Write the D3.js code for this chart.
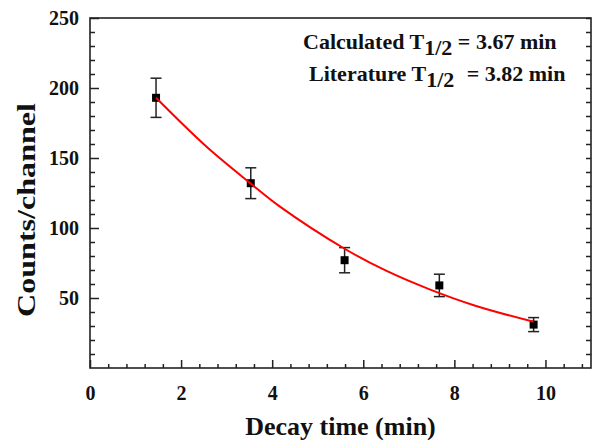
<!DOCTYPE html>
<html>
<head>
<meta charset="utf-8">
<script src="https://cdn.jsdelivr.net/npm/d3@7"></script>
<style>
  body { margin: 0; background: #fff; }
</style>
</head>
<body>
<div class="chartD3"></div>
<script>
// measured points
let decayTimes = [1.45, 3.53, 5.59, 7.67, 9.74]
let counts = [193, 132, 77, 59, 31]
let errors = [14, 11, 9, 8, 5]

// red fit line
let fitTimes = [1.45, 2.56, 3.52, 4.14, 5.6, 6.5, 7.47, 8.46, 9.74]
let fitCounts = [193, 158, 132, 116, 85, 69.5, 56, 44.5, 33]

let xMajor = [0, 2, 4, 6, 8, 10]
let yMajor = [50, 100, 150, 200, 250]

const serif = 'Liberation Serif'

let margin = {top: 18, right: 5, bottom: 72, left: 90}
let width = 596 - margin.left - margin.right
let height = 440 - margin.top - margin.bottom

let svg = d3.select('.chartD3').append('svg')
    .attr('width', 596)
    .attr('height', 440)
    .attr('font-family', serif)
    .attr('font-weight', 'bold')

let chart = svg.append('g')
    .attr('transform', 'translate(' + margin.left + ',' + margin.top + ')')

let x = d3.scaleLinear().domain([0, 11]).range([0, width])
let y = d3.scaleLinear().domain([0, 250]).range([height, 0])

let xMinor = d3.range(1, 28).filter(k => k % 5 != 0).map(k => k * 0.4)
let yMinor = d3.range(10, 250, 10).filter(v => v % 50 != 0)

// bottom axis
chart.append('g')
    .attr('class', 'axis')
    .attr('transform', 'translate(0,' + height + ')')
    .call(d3.axisBottom(x).tickValues(xMajor).tickSizeInner(-8).tickSizeOuter(0).tickPadding(18).tickFormat(d3.format('d')))
chart.append('g')
    .attr('class', 'axis')
    .attr('transform', 'translate(0,' + height + ')')
    .call(d3.axisBottom(x).tickValues(xMinor).tickSizeInner(-4).tickSizeOuter(0).tickFormat(''))

// left axis
chart.append('g')
    .attr('class', 'axis')
    .call(d3.axisLeft(y).tickValues(yMajor).tickSizeInner(-9).tickSizeOuter(0).tickPadding(11))
chart.append('g')
    .attr('class', 'axis')
    .call(d3.axisLeft(y).tickValues(yMinor).tickSizeInner(-5).tickSizeOuter(0).tickFormat(''))

// right axis, ticks only
chart.append('g')
    .attr('class', 'axis')
    .attr('transform', 'translate(' + width + ',0)')
    .call(d3.axisRight(y).tickValues(yMajor.concat(yMinor)).tickSizeInner(-5).tickSizeOuter(0).tickFormat(''))

chart.selectAll('.axis').attr('font-family', serif).attr('font-size', 20)
chart.selectAll('.axis .domain').remove()
chart.selectAll('.axis line').attr('stroke', '#222').attr('stroke-width', 1.5)
chart.selectAll('.axis text')
    .attr('font-family', serif)
    .attr('font-weight', 'bold')
    .attr('font-size', 20)
    .attr('fill', '#111')

// frame
chart.append('rect')
    .attr('x', 0).attr('y', 0)
    .attr('width', width).attr('height', height)
    .attr('fill', 'none')
    .attr('stroke', '#222')
    .attr('stroke-width', 1.6)

let points = decayTimes.map((t, i) => ({t: t, c: counts[i], e: errors[i]}))

// error bars
let bars = chart.selectAll('.err').data(points).enter().append('g').attr('class', 'err')
bars.append('line')
    .attr('x1', d => x(d.t)).attr('x2', d => x(d.t))
    .attr('y1', d => y(d.c + d.e)).attr('y2', d => y(d.c - d.e))
bars.append('line')
    .attr('x1', d => x(d.t) - 5.5).attr('x2', d => x(d.t) + 5.5)
    .attr('y1', d => y(d.c + d.e)).attr('y2', d => y(d.c + d.e))
bars.append('line')
    .attr('x1', d => x(d.t) - 5.5).attr('x2', d => x(d.t) + 5.5)
    .attr('y1', d => y(d.c - d.e)).attr('y2', d => y(d.c - d.e))
bars.selectAll('line').attr('stroke', '#222').attr('stroke-width', 1.5)

// square markers
chart.selectAll('.pt').data(points).enter().append('rect')
    .attr('class', 'pt')
    .attr('x', d => x(d.t) - 4)
    .attr('y', d => y(d.c) - 4)
    .attr('width', 8).attr('height', 8)
    .attr('fill', '#000')

// fit curve
let fit = fitTimes.map((t, i) => [t, fitCounts[i]])
chart.append('path')
    .datum(fit)
    .attr('fill', 'none')
    .attr('stroke', '#ff0000')
    .attr('stroke-width', 2)
    .attr('d', d3.line().x(d => x(d[0])).y(d => y(d[1])).curve(d3.curveCatmullRom))

// annotation
let note1 = svg.append('text').attr('x', 303).attr('y', 49)
    .attr('font-family', serif).attr('font-size', 22).attr('fill', '#111')
note1.append('tspan').text('Calculated T')
note1.append('tspan').attr('dy', 6).text('1/2')
note1.append('tspan').attr('dy', -6).text(' = 3.67 min')

let note2 = svg.append('text').attr('x', 309).attr('y', 81)
    .attr('font-family', serif).attr('font-size', 22).attr('fill', '#111')
note2.append('tspan').text('Literature T')
note2.append('tspan').attr('dy', 6).text('1/2')
note2.append('tspan').attr('dy', -6).attr('dx', 7).text(' = 3.82 min')

// axis titles
svg.append('text')
    .attr('x', margin.left + width / 2)
    .attr('y', 435)
    .attr('text-anchor', 'middle')
    .attr('font-size', 26)
    .attr('fill', '#111')
    .text('Decay time (min)')

svg.append('text')
    .attr('transform', 'translate(35,210) rotate(-90)')
    .attr('text-anchor', 'middle')
    .attr('textLength', 214)
    .attr('lengthAdjust', 'spacingAndGlyphs')
    .attr('font-size', 26)
    .attr('fill', '#111')
    .text('Counts/channel')
</script>
</body>
</html>
